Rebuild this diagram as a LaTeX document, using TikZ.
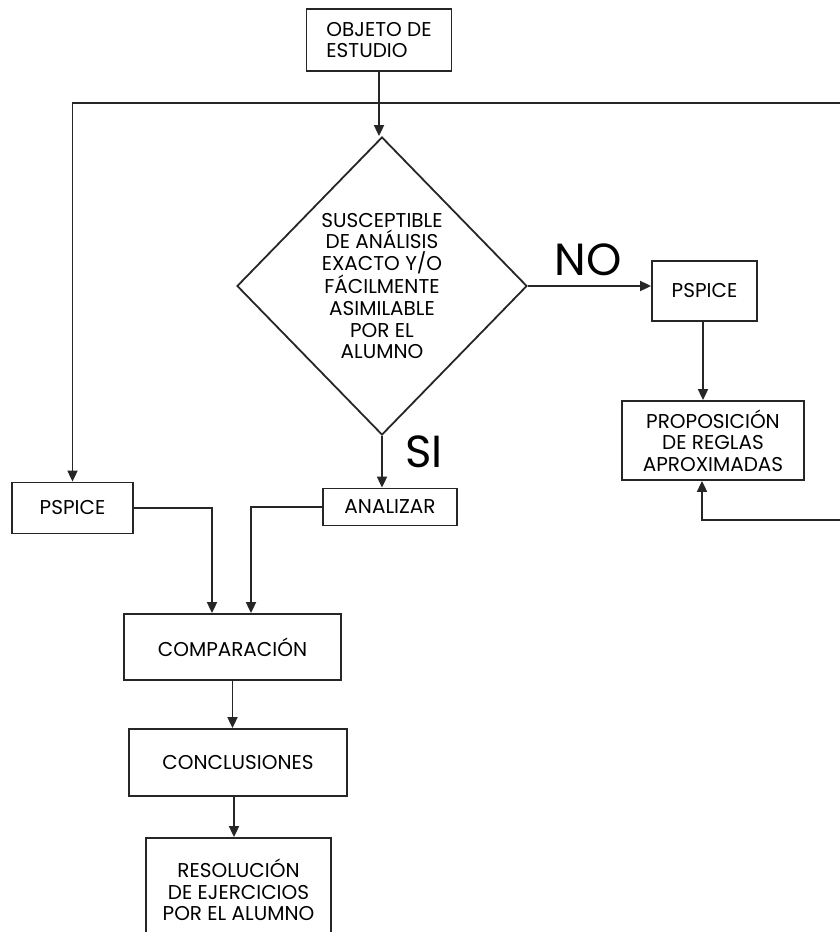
\documentclass[tikz,border=0pt]{standalone}
\usepackage{fontspec}
\setmainfont{Poppins}
\usetikzlibrary{shapes.geometric,arrows.meta}
\tikzset{
  ln/.style={line width=1.8pt, draw=black!85},
  arr/.style={ln, -{Triangle[length=11pt,width=10pt]}},
  box/.style={ln, draw, rectangle, inner sep=0pt, align=center,
    font=\fontsize{20}{21.5}\selectfont},
  lbl/.style={inner sep=0pt, font=\fontsize{45}{45}\selectfont}
}
\begin{document}
\begin{tikzpicture}[x=1pt,y=-1pt]
\useasboundingbox (0,0) rectangle (839,932);
\node[box, align=left, minimum width=145pt, minimum height=62pt] (obj) at (379,40) {OBJETO DE\\ESTUDIO};
\node[ln, draw, diamond, inner sep=0pt, minimum width=290pt, minimum height=298pt,
      align=center, font=\fontsize{20}{21.7}\selectfont] (dia) at (382,286)
  {SUSCEPTIBLE\\DE ANÁLISIS\\EXACTO Y/O\\FÁCILMENTE\\ASIMILABLE\\POR EL\\ALUMNO};
\node[box, minimum width=105pt, minimum height=60pt] (pspR) at (704.5,291) {PSPICE};
\node[box, minimum width=182pt, minimum height=79pt] (prop) at (713,440.5) {PROPOSICIÓN\\DE REGLAS\\APROXIMADAS};
\node[box, minimum width=121pt, minimum height=51pt] (pspL) at (72.5,508) {PSPICE};
\node[box, minimum width=134pt, minimum height=37pt] (anal) at (390,507) {ANALIZAR};
\node[box, minimum width=217pt, minimum height=66pt] (comp) at (232.5,647) {COMPARACIÓN};
\node[box, minimum width=218pt, minimum height=67pt] (conc) at (238,762.5) {CONCLUSIONES};
\node[box, minimum width=185pt, minimum height=104pt] (res) at (238.5,890) {RESOLUCIÓN\\DE EJERCICIOS\\POR EL ALUMNO};
\node[lbl] (no) at (588,260) {NO};
\node[lbl] (si) at (424,452) {SI};
\coordinate (J) at (obj.south |- 0,103);
\coordinate (R1) at (845,103);
\coordinate (R2) at (845,520);
\draw[arr] (obj.south) -- (obj.south |- dia.north);
\draw[arr] (J) -| (pspL.north);
\draw[arr] (J) -- (R1) -- (R2) -| ([xshift=-11pt]prop.south);
\draw[arr] (dia.east) -- (dia.east -| pspR.west);
\draw[arr] ([xshift=-1.5pt]pspR.south) -- ([xshift=-1.5pt]pspR.south |- prop.north);
\draw[arr] (dia.south) -- (dia.south |- anal.north);
\draw[arr] (pspL.east) -| ([xshift=-20.5pt]comp.north);
\draw[arr] (anal.west) -| ([xshift=18.5pt]comp.north);
\draw[arr] (comp.south) -- (comp.south |- conc.north);
\draw[arr] ([xshift=-4pt]conc.south) -- ([xshift=-4pt]conc.south |- res.north);
\end{tikzpicture}
\end{document}
